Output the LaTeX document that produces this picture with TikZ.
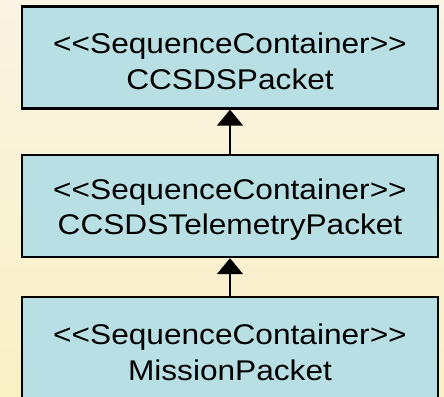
\documentclass[tikz,border=0pt]{standalone}
\usepackage{fontspec}
\setmainfont{Liberation Sans}[FakeStretch=1.11, Ligatures=TeXOff]
\usetikzlibrary{arrows.meta}
\definecolor{bgtop}{RGB}{249,244,228}
\definecolor{bgbot}{RGB}{249,240,196}
\definecolor{boxfill}{RGB}{184,224,228}
\tikzset{
  classbox/.style={draw=black, line width=2.4pt, fill=boxfill, rectangle,
    minimum width=416pt, inner sep=0pt},
  lbl/.style={anchor=base, inner sep=0pt, font=\fontsize{28.5}{34}\selectfont},
  gen/.style={line width=2pt, -{Triangle[length=16pt,width=26pt]}}
}
\begin{document}
\begin{tikzpicture}[x=1pt,y=-1pt]
  \useasboundingbox (0,0) rectangle (444,396);
  \shade[top color=bgtop, bottom color=bgbot] (0,0) rectangle (444,396);
  \clip (0,0) rectangle (444,396);

  % container classes
  \node[classbox, minimum height=102pt] (pkt) at (230,57.5) {};
  \node[classbox, minimum height=102pt] (tm) at (230,206) {};
  \node[classbox, minimum height=124pt] (mission) at (230,359) {};

  \node[lbl] (pktA) at (230,54) {<<SequenceContainer>>};
  \node[lbl] (pktB) at (230,89.5) {CCSDSPacket};
  \node[lbl] (tmA) at (230,199) {<<SequenceContainer>>};
  \node[lbl] (tmB) at (230,234.5) {CCSDSTelemetryPacket};
  \node[lbl] (misA) at (230,344.5) {<<SequenceContainer>>};
  \node[lbl] (misB) at (230,380) {MissionPacket};

  % generalisation links
  \draw[gen] (tm.north) -- (pkt.south);
  \draw[gen] (mission.north) -- (tm.south);
\end{tikzpicture}
\end{document}
